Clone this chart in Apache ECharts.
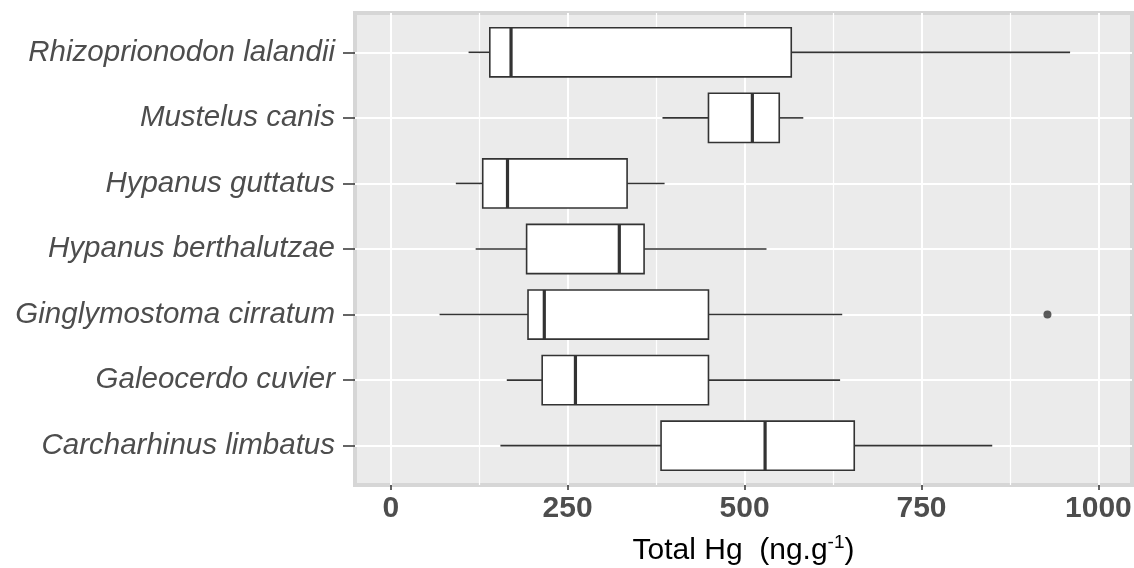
<!DOCTYPE html>
<html>
<head>
<meta charset="utf-8">
<script src="https://cdn.jsdelivr.net/npm/echarts@6/dist/echarts.min.js"></script>
<style>
  html, body { margin: 0; padding: 0; background: #fff; }
  #chart { width: 1134px; height: 568px; }
</style>
</head>
<body>
<div id="chart"></div>
<script>
// species, top to bottom
const species = [
  'Rhizoprionodon lalandii',
  'Mustelus canis',
  'Hypanus guttatus',
  'Hypanus berthalutzae',
  'Ginglymostoma cirratum',
  'Galeocerdo cuvier',
  'Carcharhinus limbatus'
]
const whiskerLow = [110, 384, 92, 120, 69, 164, 155]
const q1 = [140, 449, 130, 192, 194, 214, 382]
const median = [170, 511, 165, 323, 217, 261, 529]
const q3 = [566, 549, 334, 358, 449, 449, 655]
const whiskerHigh = [960, 583, 387, 531, 638, 635, 850]
const outlierSpecies = ['Ginglymostoma cirratum']
const outlierValues = [928]
const xMajorTicks = [0, 250, 500, 750, 1000]
const xMinorTicks = [125, 375, 625, 875]

const font = '"Liberation Sans", Arial, sans-serif'
const rowIdx = species.map((s, i) => i + 1)

const boxData = species.map((s, i) => [i + 1, whiskerLow[i], q1[i], median[i], q3[i], whiskerHigh[i]])
const outlierData = outlierValues.map((v, i) => [v, species.indexOf(outlierSpecies[i]) + 1])

const chart = echarts.init(document.getElementById('chart'))

function renderBox (params, api) {
  const y = api.value(0)
  const pLow = api.coord([api.value(1), y])
  const pQ1 = api.coord([api.value(2), y])
  const pMed = api.coord([api.value(3), y])
  const pQ3 = api.coord([api.value(4), y])
  const pHigh = api.coord([api.value(5), y])
  const half = api.size([0, 0.375])[1]
  const stroke = { stroke: '#333333', lineWidth: 1.6 }
  return {
    type: 'group',
    children: [
      { type: 'line', shape: { x1: pLow[0], y1: pLow[1], x2: pQ1[0], y2: pQ1[1] }, style: stroke },
      { type: 'line', shape: { x1: pQ3[0], y1: pQ3[1], x2: pHigh[0], y2: pHigh[1] }, style: stroke },
      {
        type: 'rect',
        shape: { x: pQ1[0], y: pQ1[1] - half, width: pQ3[0] - pQ1[0], height: half * 2 },
        style: { fill: '#ffffff', stroke: '#333333', lineWidth: 1.6 }
      },
      {
        type: 'line',
        shape: { x1: pMed[0], y1: pMed[1] - half, x2: pMed[0], y2: pMed[1] + half },
        style: { stroke: '#333333', lineWidth: 3.2 }
      }
    ]
  }
}

const option = {
  animation: false,
  grid: {
    left: 355,
    top: 13,
    width: 777,
    height: 472,
    outerBoundsMode: 'none',
    show: true,
    backgroundColor: '#ebebeb',
    borderColor: '#d6d6d6',
    borderWidth: 4
  },
  xAxis: [
    {
      type: 'value',
      min: -50.5,
      max: 1047.5,
      name: 'Total Hg  (ng.g{sup|-1})',
      nameLocation: 'middle',
      nameGap: 48,
      nameTextStyle: {
        fontFamily: font,
        fontSize: 30,
        color: '#000',
        rich: {
          sup: { fontFamily: font, fontSize: 19, color: '#000', verticalAlign: 'top', padding: [0, 0, 16, 0] }
        }
      },
      axisLine: { show: false, onZero: false },
      axisTick: { show: true, length: 5, customValues: xMajorTicks, lineStyle: { color: '#333333', width: 1.5 } },
      axisLabel: {
        customValues: xMajorTicks,
        margin: 9,
        fontFamily: font,
        fontSize: 30,
        fontWeight: 'bold',
        color: '#4d4d4d',
        formatter: (v) => String(v)
      },
      splitLine: { show: true, lineStyle: { color: '#ffffff', width: 2 } }
    },
    {
      type: 'value',
      min: -50.5,
      max: 1047.5,
      position: 'bottom',
      axisLine: { show: false, onZero: false },
      axisTick: { show: false, customValues: xMinorTicks },
      axisLabel: { show: false, customValues: xMinorTicks },
      splitLine: { show: true, lineStyle: { color: '#ffffff', width: 1.2 } }
    }
  ],
  yAxis: {
    type: 'value',
    inverse: true,
    min: 0.4,
    max: 7.6,
    axisLine: { show: false, onZero: false },
    axisTick: { show: true, length: 12, customValues: rowIdx, lineStyle: { color: '#333333', width: 1.5 } },
    axisLabel: {
      customValues: rowIdx,
      margin: 20,
      fontFamily: font,
      fontSize: 29.5,
      fontStyle: 'italic',
      color: '#4d4d4d',
      formatter: (v) => species[Math.round(v) - 1] || ''
    },
    splitLine: { show: true, lineStyle: { color: '#ffffff', width: 2 } }
  },
  series: [
    {
      type: 'custom',
      xAxisIndex: 0,
      renderItem: renderBox,
      encode: { x: [1, 2, 3, 4, 5], y: 0 },
      data: boxData,
      z: 2
    },
    {
      type: 'scatter',
      xAxisIndex: 0,
      symbol: 'circle',
      symbolSize: 8,
      itemStyle: { color: '#333333' },
      data: outlierData,
      z: 3
    }
  ]
}
chart.setOption(option)
</script>
</body>
</html>
